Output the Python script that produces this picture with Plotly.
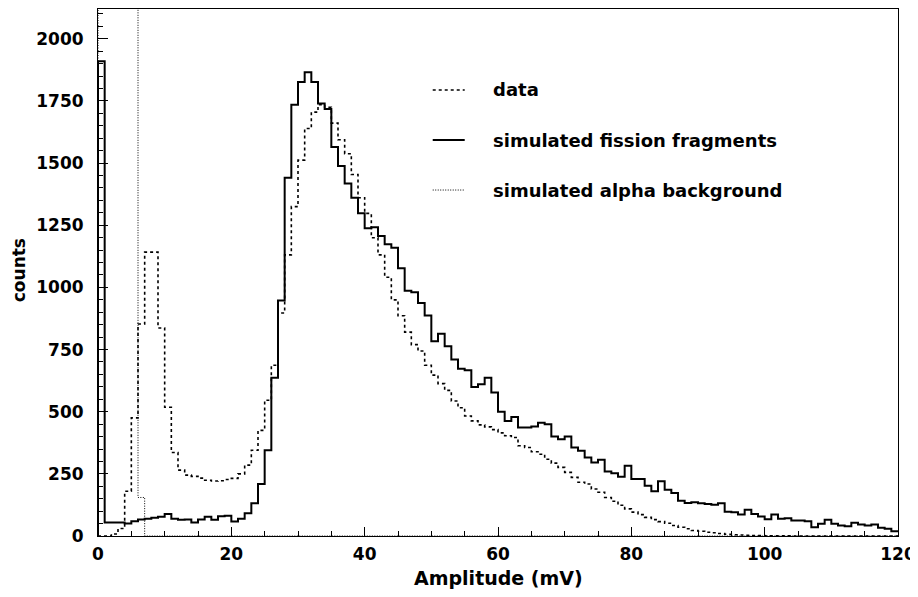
import plotly.graph_objects as go

# ---------------- data ----------------
bin_edges = list(range(0, 121))          # 1 mV wide bins, 0..120 mV

# simulated fission fragments (solid)
fission = [1910, 54, 54, 54, 50, 59, 66, 69, 73, 77,
           89, 69, 65, 66, 54, 66, 77, 65, 79, 81,
           58, 69, 92, 132, 209, 345, 637, 947, 1441, 1735,
           1826, 1866, 1826, 1740, 1718, 1565, 1488, 1418, 1361, 1298,
           1238, 1242, 1207, 1174, 1160, 1077, 987, 981, 937, 887,
           783, 814, 763, 710, 673, 667, 599, 610, 637, 577,
           500, 463, 479, 436, 436, 440, 456, 450, 400, 389,
           400, 356, 343, 316, 296, 307, 259, 252, 238, 283,
           229, 229, 202, 180, 220, 186, 173, 142, 133, 136,
           132, 129, 126, 132, 98, 96, 86, 106, 89, 78,
           67, 86, 69, 71, 62, 62, 59, 35, 49, 65,
           49, 42, 39, 53, 46, 42, 46, 33, 29, 19]

# measured data (dashed)
data = [0, 0, 8, 30, 180, 475, 853, 1142, 1142, 837,
        518, 336, 265, 245, 240, 233, 224, 221, 222, 227,
        232, 250, 285, 345, 425, 546, 687, 897, 1131, 1325,
        1512, 1639, 1705, 1735, 1725, 1661, 1594, 1538, 1454, 1361,
        1298, 1200, 1131, 1041, 950, 886, 820, 770, 744, 687,
        647, 613, 586, 543, 516, 483, 463, 447, 439, 428,
        415, 403, 396, 363, 356, 339, 329, 309, 293, 276,
        256, 236, 216, 209, 189, 176, 155, 140, 124, 109,
        96, 86, 75, 66, 58, 51, 42, 35, 29, 22,
        19, 15, 13, 10, 7, 5, 4, 3, 2, 2,
        1, 1, 1, 1, 0, 0, 0, 0, 0, 0,
        0, 0, 0, 0, 0, 0, 0, 0, 0, 0]

# simulated alpha background (dotted); first bins are off scale (above frame)
alpha = [4000, 4000, 4000, 4000, 4000, 4000, 155] + [0] * 113

x_tick_vals = [0, 20, 40, 60, 80, 100, 120]
y_tick_vals = [0, 250, 500, 750, 1000, 1250, 1500, 1750, 2000]
legend_labels = ["data", "simulated fission fragments", "simulated alpha background"]

FONT = "DejaVu Sans"


def step_xy(values):
    xs = [bin_edges[0]] + bin_edges
    ys = [0] + list(values) + [values[-1]]
    return xs, ys


fig = go.Figure()
styles = [
    (data, dict(color="black", width=1.6, dash="3px,3px")),
    (fission, dict(color="black", width=2)),
    (alpha, dict(color="black", width=1, dash="1px,1.5px")),
]
for (vals, ln), name in zip(styles, legend_labels):
    xs, ys = step_xy(vals)
    fig.add_trace(go.Scatter(x=xs, y=ys, mode="lines", line=dict(shape="hv", **ln),
                             name=name, showlegend=False, hoverinfo="skip"))

# manual legend (line samples + text) to mimic the original layout
leg_y = [0.8463, 0.7514, 0.6565]
for (vals, ln), name, yy in zip(styles, legend_labels, leg_y):
    fig.add_shape(type="line", xref="paper", yref="paper", x0=0.4184, x1=0.4584,
                  y0=yy, y1=yy, line=ln)
    fig.add_annotation(xref="paper", yref="paper", x=0.4915, y=yy, text=name,
                       showarrow=False, xanchor="left", yanchor="middle",
                       font=dict(family=FONT, size=18, color="black", weight="bold"))

# axis titles
fig.add_annotation(xref="paper", yref="paper", x=0.5, y=-0.0797, text="Amplitude (mV)",
                   showarrow=False, xanchor="center", yanchor="middle",
                   font=dict(family=FONT, size=19, color="black", weight="bold"))
fig.add_annotation(xref="paper", yref="paper", x=-0.0985, y=0.5047, text="counts",
                   textangle=-90, showarrow=False, xanchor="center", yanchor="middle",
                   borderpad=0,
                   font=dict(family=FONT, size=17, color="black", weight="bold"))

tickfont = dict(family=FONT, size=17, color="black", weight="bold")
fig.update_layout(
    width=910, height=589,
    margin=dict(l=90, r=20, t=1, b=61, autoexpand=False),
    paper_bgcolor="white", plot_bgcolor="white",
    xaxis=dict(range=[0, 120], tickvals=x_tick_vals, ticks="inside", ticklen=9,
               tickwidth=1, tickcolor="black", showline=True, linecolor="black",
               linewidth=1, mirror=True, showgrid=False, zeroline=False,
               tickfont=tickfont, ticklabelstandoff=3, automargin=False,
               minor=dict(dtick=5, tick0=0, ticks="inside", ticklen=5,
                          tickcolor="black", showgrid=False)),
    xaxis2=dict(overlaying="x", matches="x", anchor="y", side="bottom",
                ticks="inside", ticklen=2.5, dtick=1, tick0=0, tickcolor="black",
                showticklabels=False, showline=False, showgrid=False, zeroline=False,
                automargin=False),
    yaxis=dict(range=[0, 2120], tickvals=y_tick_vals, ticks="inside", ticklen=10,
               tickwidth=1, tickcolor="black", showline=True, linecolor="black",
               linewidth=1, mirror=True, showgrid=False, zeroline=False,
               tickfont=tickfont, ticklabelstandoff=10, automargin=False,
               minor=dict(dtick=50, tick0=0, ticks="inside", ticklen=5,
                          tickcolor="black", showgrid=False)),
)

fig.write_html("out.html")
